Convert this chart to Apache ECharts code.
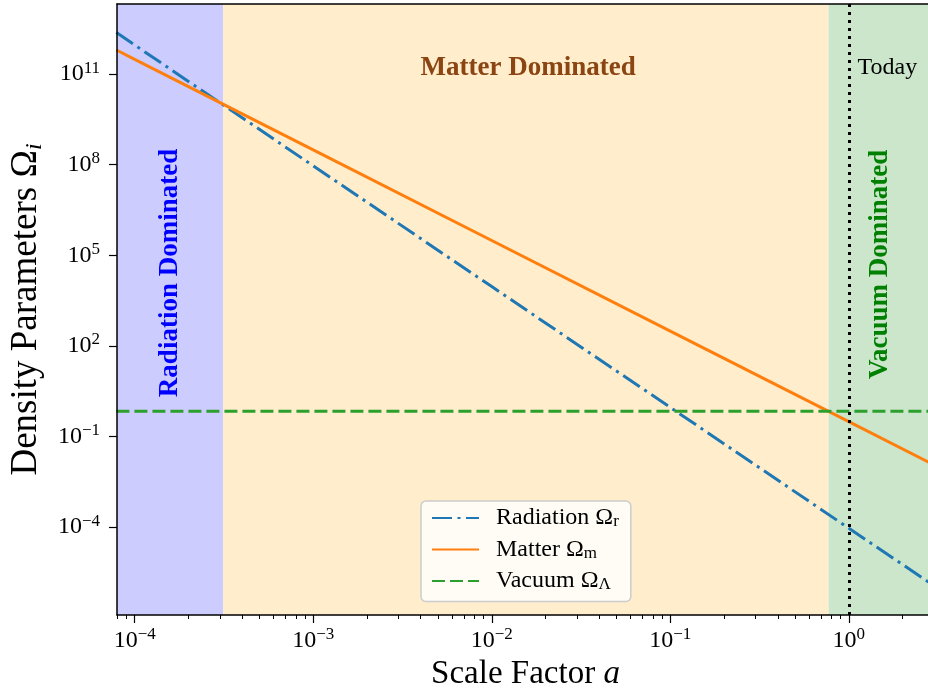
<!DOCTYPE html>
<html lang="en">
<head>
  <meta charset="utf-8">
  <title>Density Parameters vs Scale Factor</title>
  <script src="https://cdn.jsdelivr.net/npm/echarts@6/dist/echarts.min.js"></script>
  <style>
    html, body { margin: 0; padding: 0; background: #fff; }
    #main { width: 928px; height: 693px; }
  </style>
</head>
<body>
  <div id="main"></div>
  <script type="text/javascript">
// scale factor a at which the curves are sampled
var scaleFactor = [7.9e-5, 1e-4, 1e-3, 1e-2, 1e-1, 1, 3.1];
// density parameters
var radiation = [2.4e12, 9.2e11, 9.2e7, 9.2e3, 0.92, 9.2e-5, 1.0e-6];
var matter = [6.3e11, 3.1e11, 3.1e8, 3.1e5, 310, 0.31, 0.0104];
var vacuum = [0.69, 0.69, 0.69, 0.69, 0.69, 0.69, 0.69];

// era boundaries (left edge, r-m equality, m-lambda equality, right edge)
var eraBounds = [7.96e-5, 3.13e-4, 0.77, 3];
var eraNames = ['Radiation Dominated', 'Matter Dominated', 'Vacuum Dominated'];
var today = 1;

// ticks
var xMajor = [1e-4, 1e-3, 1e-2, 1e-1, 1];
var xMinor = [8e-5, 9e-5,
  2e-4, 3e-4, 4e-4, 5e-4, 6e-4, 7e-4, 8e-4, 9e-4,
  2e-3, 3e-3, 4e-3, 5e-3, 6e-3, 7e-3, 8e-3, 9e-3,
  2e-2, 3e-2, 4e-2, 5e-2, 6e-2, 7e-2, 8e-2, 9e-2,
  0.2, 0.3, 0.4, 0.5, 0.6, 0.7, 0.8, 0.9, 2];
var yMajor = [1e-4, 1e-1, 1e2, 1e5, 1e8, 1e11];

var FONT = 'Liberation Serif';

function zip(xs, ys) {
  return xs.map(function (x, i) { return [x, ys[i]]; });
}
function powLabel(v) {
  var e = Math.round(Math.log10(v));
  return '{b|10}{s|' + String(e).replace('-', '\u2212') + '}';
}
var powRich = {
  b: { fontFamily: FONT, fontSize: 24, lineHeight: 29, color: '#000' },
  s: { fontFamily: FONT, fontSize: 17, lineHeight: 17, verticalAlign: 'top', color: '#000' }
};

var chart = echarts.init(document.getElementById('main'), null, { renderer: 'canvas' });

var option = {
  animation: false,
  backgroundColor: '#ffffff',
  grid: { left: 117, top: 4, width: 817, height: 611, show: false, containLabel: false, outerBoundsMode: 'none' },
  xAxis: [
    {
      type: 'log', min: eraBounds[0], max: eraBounds[3], z: 10, position: 'bottom',
      name: '{t|Scale Factor }{i|a}', nameLocation: 'middle', nameGap: 40,
      nameTextStyle: {
        rich: {
          t: { fontFamily: FONT, fontSize: 33, color: '#000' },
          i: { fontFamily: FONT, fontSize: 33, fontStyle: 'italic', color: '#000' }
        }
      },
      axisLine: { show: true, lineStyle: { color: '#000', width: 1.5 } },
      axisTick: { show: true, length: 8, customValues: xMajor, lineStyle: { color: '#000', width: 1.2 } },
      axisLabel: { customValues: xMajor, margin: 11, formatter: powLabel, rich: powRich },
      splitLine: { show: false }, minorTick: { show: false }
    },
    {
      type: 'log', min: eraBounds[0], max: eraBounds[3], z: 10, position: 'bottom',
      axisLine: { show: false },
      axisTick: { show: true, length: 4, customValues: xMinor, lineStyle: { color: '#000', width: 1 } },
      axisLabel: { show: false },
      splitLine: { show: false }
    },
    {
      type: 'log', min: eraBounds[0], max: eraBounds[3], z: 10, position: 'top',
      axisLine: { show: true, lineStyle: { color: '#000', width: 1.5 } },
      axisTick: { show: false }, axisLabel: { show: false }, splitLine: { show: false }
    }
  ],
  yAxis: {
    type: 'log', min: 1.23e-7, max: 2.1e13, z: 10,
    name: '{t|Density Parameters \u03A9}{i|i}', nameLocation: 'middle', nameGap: 69,
    nameTextStyle: {
      rich: {
        t: { fontFamily: FONT, fontSize: 37, lineHeight: 42, color: '#000' },
        i: { fontFamily: FONT, fontSize: 24, lineHeight: 24, fontStyle: 'italic', verticalAlign: 'bottom', color: '#000' }
      }
    },
    axisLine: { show: true, lineStyle: { color: '#000', width: 1.5 } },
    axisTick: { show: true, length: 8, customValues: yMajor, lineStyle: { color: '#000', width: 1.2 } },
    axisLabel: { customValues: yMajor, margin: 17, formatter: powLabel, rich: powRich },
    splitLine: { show: false }, minorTick: { show: false }
  },
  legend: {
    orient: 'vertical', left: 421, top: 501,
    padding: [5, 12, 8, 10], itemGap: 7, itemWidth: 47, itemHeight: 14,
    backgroundColor: 'rgba(255,255,255,0.8)', borderColor: '#cccccc', borderWidth: 1.5, borderRadius: 5,
    itemStyle: { opacity: 0 },
    textStyle: {
      fontFamily: FONT, fontSize: 24, color: '#000',
      rich: {
        t: { fontFamily: FONT, fontSize: 24, lineHeight: 25, padding: [0, 0, 0, 12], color: '#000' },
        s: { fontFamily: FONT, fontSize: 17, lineHeight: 17, verticalAlign: 'bottom', color: '#000' }
      }
    },
    formatter: function (name) {
      var parts = { Radiation: 'r', Matter: 'm', Vacuum: '\u039B' };
      return '{t|' + name + ' \u03A9}{s|' + parts[name] + '}';
    },
    data: ['Radiation', 'Matter', 'Vacuum']
  },
  series: [
    {
      name: 'Radiation', type: 'line', data: zip(scaleFactor, radiation),
      symbol: 'none', clip: true, z: 3,
      lineStyle: { color: '#1f77b4', width: 3, type: [20, 5.5, 3, 5.5] },
      itemStyle: { color: '#1f77b4' },
      markArea: {
        silent: true,
        data: [
          [{ xAxis: eraBounds[0], itemStyle: { color: '#ccccff' } }, { xAxis: eraBounds[1] }],
          [{ xAxis: eraBounds[1], itemStyle: { color: '#ffedcc' } }, { xAxis: eraBounds[2] }],
          [{ xAxis: eraBounds[2], itemStyle: { color: '#cce6cc' } }, { xAxis: eraBounds[3] }]
        ]
      }
    },
    {
      name: 'Matter', type: 'line', data: zip(scaleFactor, matter),
      symbol: 'none', clip: true, z: 3,
      lineStyle: { color: '#ff7f0e', width: 3, type: 'solid' },
      itemStyle: { color: '#ff7f0e' }
    },
    {
      name: 'Vacuum', type: 'line', data: zip(scaleFactor, vacuum),
      symbol: 'none', clip: true, z: 3,
      lineStyle: { color: '#2ca02c', width: 3, type: [13, 5] },
      itemStyle: { color: '#2ca02c' },
      markLine: {
        silent: true, symbol: ['none', 'none'], label: { show: false },
        lineStyle: { color: '#000', width: 3, type: [3, 5] },
        data: [{ xAxis: today }]
      }
    }
  ]
};
chart.setOption(option);

// era annotations, anchored in data space
var notes = [
  { text: eraNames[0], a: 1.58e-4, v: 2.6e4, color: '#0000ff', bold: true, rot: true, align: 'center' },
  { text: eraNames[1], a: 0.016, v: 1.6e11, color: '#8b4513', bold: true, rot: false, align: 'center' },
  { text: eraNames[2], a: 1.5, v: 5e4, color: '#008000', bold: true, rot: true, align: 'center' },
  { text: 'Today', a: 1.12, v: 1.6e11, color: '#000', bold: false, rot: false, align: 'left' }
];
var graphics = notes.map(function (n) {
  var p = chart.convertToPixel({ xAxisIndex: 0, yAxisIndex: 0 }, [n.a, n.v]);
  return {
    type: 'text', x: p[0], y: p[1], z: 50,
    rotation: n.rot ? Math.PI / 2 : 0,
    style: {
      text: n.text, fill: n.color, align: n.align, verticalAlign: 'middle',
      font: (n.bold ? 'bold ' : '') + (n.bold ? 27 : 24) + 'px "' + FONT + '"'
    }
  };
});
chart.setOption({ graphic: graphics });
  </script>
</body>
</html>
